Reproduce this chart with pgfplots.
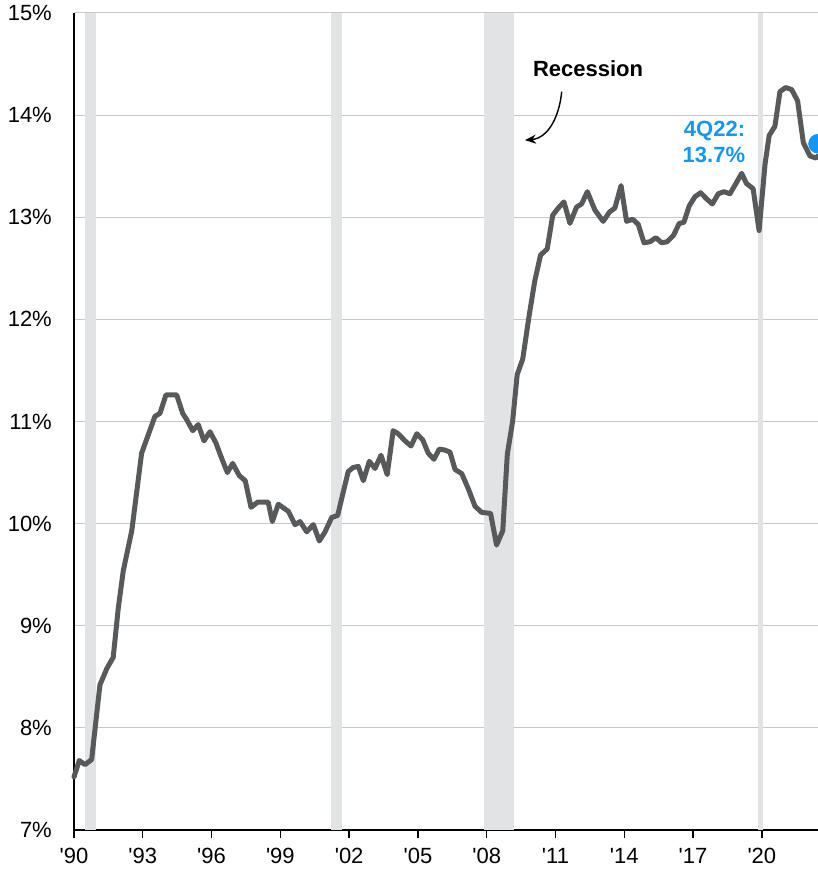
\documentclass[border=0pt]{standalone}
\usepackage{fontspec}
\setmainfont{Liberation Sans}
\usepackage{pgfplots}
\pgfplotsset{compat=1.18}
\usetikzlibrary{arrows.meta}
\definecolor{linegray}{RGB}{88,89,91}
\definecolor{recgray}{RGB}{226,227,229}
\definecolor{gridgray}{RGB}{200,200,200}
\definecolor{jpblue}{RGB}{20,150,245}
\pgfplotstableread{
x y
1990.00 7.52
1990.23 7.68
1990.48 7.64
1990.77 7.69
1991.13 8.42
1991.43 8.58
1991.71 8.69
1991.93 9.17
1992.15 9.54
1992.52 9.93
1992.95 10.69
1993.24 10.87
1993.53 11.05
1993.75 11.08
1994.01 11.26
1994.48 11.26
1994.74 11.08
1994.91 11.02
1995.18 10.91
1995.42 10.97
1995.67 10.81
1995.93 10.90
1996.19 10.79
1996.44 10.64
1996.69 10.50
1996.92 10.59
1997.21 10.47
1997.47 10.42
1997.72 10.16
1998.01 10.21
1998.47 10.21
1998.65 10.02
1998.91 10.19
1999.35 10.12
1999.64 9.99
1999.86 10.02
2000.15 9.92
2000.44 9.99
2000.70 9.83
2000.95 9.92
2001.24 10.06
2001.50 10.08
2001.67 10.24
2001.96 10.51
2002.18 10.55
2002.40 10.56
2002.62 10.42
2002.88 10.61
2003.13 10.54
2003.39 10.67
2003.66 10.48
2003.92 10.91
2004.14 10.88
2004.44 10.81
2004.70 10.76
2004.95 10.88
2005.21 10.82
2005.45 10.69
2005.70 10.63
2005.93 10.73
2006.18 10.72
2006.40 10.70
2006.62 10.53
2006.91 10.49
2007.20 10.34
2007.49 10.17
2007.78 10.11
2008.17 10.10
2008.43 9.79
2008.70 9.93
2008.90 10.68
2009.13 11.00
2009.33 11.46
2009.57 11.61
2009.86 12.05
2010.10 12.38
2010.35 12.63
2010.64 12.69
2010.88 13.02
2011.12 13.09
2011.37 13.15
2011.63 12.94
2011.92 13.10
2012.14 13.13
2012.39 13.25
2012.72 13.07
2013.08 12.96
2013.35 13.05
2013.59 13.09
2013.86 13.31
2014.10 12.96
2014.37 12.98
2014.61 12.93
2014.86 12.75
2015.12 12.76
2015.38 12.80
2015.63 12.75
2015.87 12.76
2016.14 12.82
2016.40 12.94
2016.60 12.95
2016.83 13.11
2017.08 13.20
2017.33 13.24
2017.59 13.18
2017.84 13.13
2018.10 13.23
2018.35 13.25
2018.61 13.23
2018.87 13.33
2019.12 13.43
2019.33 13.33
2019.62 13.28
2019.88 12.87
2020.14 13.52
2020.32 13.80
2020.57 13.89
2020.79 14.23
2021.04 14.27
2021.30 14.25
2021.56 14.14
2021.81 13.73
2022.10 13.60
2022.36 13.58
2022.45 13.60
}\mydata
\begin{document}
\begin{tikzpicture}
\useasboundingbox (-74bp,-40bp) rectangle (744bp,830bp);
\begin{axis}[
  scale only axis, width=744bp, height=817bp,
  xmin=1990, xmax=2022.45, ymin=7, ymax=15,
  axis x line*=bottom, axis y line*=left,
  axis line style={black, line width=1.6bp},
  xtick={1990,1993,...,2020},
  xticklabels={\textquotesingle 90,\textquotesingle 93,\textquotesingle 96,\textquotesingle 99,\textquotesingle 02,\textquotesingle 05,\textquotesingle 08,\textquotesingle 11,\textquotesingle 14,\textquotesingle 17,\textquotesingle 20},
  ytick={7,8,...,15},
  yticklabels={7\%,8\%,9\%,10\%,11\%,12\%,13\%,14\%,15\%},
  ymajorgrids, grid style={gridgray, line width=1bp},
  tick align=outside, major tick length=8bp,
  xtick style={black, line width=1.4bp},
  ytick style={draw=none},
  font=\fontsize{22bp}{25bp}\selectfont,
  xticklabel style={inner sep=0pt, yshift=-10bp},
  yticklabel style={inner sep=0pt, xshift=-14bp},
  clip=false,
]
\addplot[draw=none, fill=recgray] coordinates {(1990.48,7) (1990.48,15) (1990.96,15) (1990.96,7)} -- cycle;
\addplot[draw=none, fill=recgray] coordinates {(2001.2,7) (2001.2,15) (2001.68,15) (2001.68,7)} -- cycle;
\addplot[draw=none, fill=recgray] coordinates {(2007.9,7) (2007.9,15) (2009.17,15) (2009.17,7)} -- cycle;
\addplot[draw=none, fill=recgray] coordinates {(2019.82,7) (2019.82,15) (2020.07,15) (2020.07,7)} -- cycle;
\addplot[linegray, line width=5bp, line join=round, line cap=round] table {\mydata};
\addplot[only marks, mark=*, mark size=9.5bp, color=jpblue] coordinates {(2022.45,13.72)};
\node[font=\fontsize{22bp}{25bp}\selectfont\bfseries] at (axis cs:2012.42,14.46) {Recession};
\draw[-{Stealth[length=11bp,width=9bp]}, line width=1.4bp] (axis cs:2011.27,14.23) to[out=-95,in=5] (axis cs:2009.67,13.755);
\node[anchor=east, align=right, text=jpblue, inner sep=0pt, font=\fontsize{22bp}{26bp}\selectfont\bfseries] at (axis cs:2019.28,13.735) {4Q22:\\13.7\%};
\end{axis}
\end{tikzpicture}
\end{document}
